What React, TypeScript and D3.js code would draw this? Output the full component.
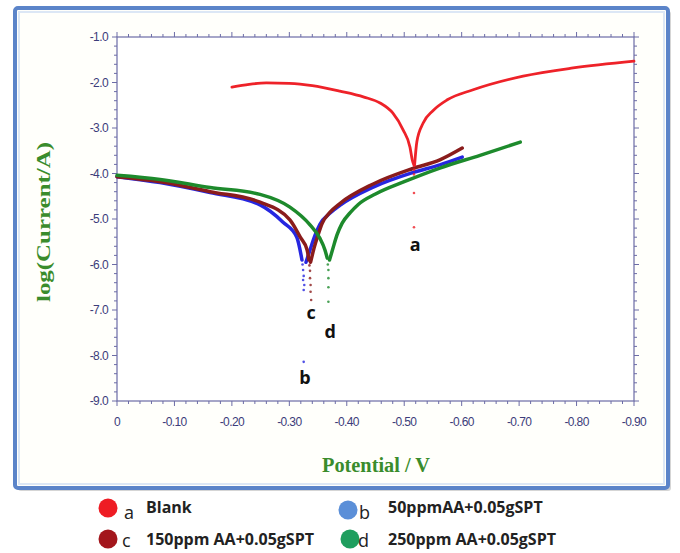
import React from "react";
import * as d3 from "d3";

type P = [number, number];

// Potential (V), log(Current/A)
const blankLeft: P[] = [
  [-0.2, -2.1], [-0.23, -2.04], [-0.26, -2.01], [-0.3, -2.02], [-0.34, -2.07], [-0.388, -2.19],
  [-0.43, -2.32], [-0.458, -2.45], [-0.48, -2.67], [-0.498, -3.04], [-0.51, -3.42], [-0.514, -3.7], [-0.517, -3.82],
];
const blankRight: P[] = [
  [-0.518, -3.82], [-0.522, -3.3], [-0.533, -2.89], [-0.55, -2.62], [-0.575, -2.38], [-0.62, -2.16],
  [-0.707, -1.86], [-0.794, -1.68], [-0.9, -1.53],
];
const blankDots: P[] = [[-0.517, -3.92], [-0.517, -4.02], [-0.517, -4.43], [-0.517, -5.18]];

const bLeft: P[] = [
  [0, -4.07], [-0.075, -4.2], [-0.162, -4.42], [-0.249, -4.69], [-0.289, -5.07],
  [-0.313, -5.4], [-0.322, -5.9],
];
const bRight: P[] = [
  [-0.329, -5.95], [-0.336, -5.68], [-0.345, -5.35], [-0.353, -5.12], [-0.371, -4.87],
  [-0.388, -4.7], [-0.446, -4.3], [-0.515, -3.98], [-0.562, -3.81], [-0.601, -3.64],
];
const bDots: P[] = [[-0.323, -6.0], [-0.324, -6.12], [-0.325, -6.25], [-0.324, -6.34], [-0.326, -6.45], [-0.325, -6.56], [-0.325, -8.14]];

const cLeft: P[] = [
  [0, -4.07], [-0.075, -4.18], [-0.162, -4.4], [-0.249, -4.63], [-0.301, -5.02],
  [-0.319, -5.4], [-0.331, -5.68], [-0.334, -5.9],
];
const cRight: P[] = [
  [-0.337, -5.95], [-0.343, -5.64], [-0.35, -5.35], [-0.357, -5.1], [-0.371, -4.85],
  [-0.388, -4.66], [-0.446, -4.23], [-0.515, -3.89], [-0.562, -3.7], [-0.601, -3.44],
];
const cDots: P[] = [[-0.335, -6.02], [-0.336, -6.14], [-0.336, -6.3], [-0.337, -6.45], [-0.337, -6.6], [-0.338, -6.78]];

const dLeft: P[] = [
  [0, -4.04], [-0.075, -4.13], [-0.162, -4.31], [-0.249, -4.46], [-0.301, -4.74],
  [-0.336, -5.13], [-0.353, -5.42], [-0.362, -5.68], [-0.366, -5.86],
];
const dRight: P[] = [
  [-0.37, -5.9], [-0.376, -5.64], [-0.383, -5.35], [-0.392, -5.09], [-0.406, -4.86],
  [-0.42, -4.68], [-0.45, -4.45], [-0.5, -4.18], [-0.562, -3.88], [-0.632, -3.6], [-0.702, -3.31],
];
const dDots: P[] = [[-0.367, -6.0], [-0.368, -6.12], [-0.368, -6.3], [-0.368, -6.5], [-0.368, -6.82]];

const curveLabels = ["a", "b", "c", "d"];
const curveLabelPos: P[] = [[-0.519, -5.57], [-0.327, -8.49], [-0.338, -7.07], [-0.371, -7.48]];

const xTicks = [0, -0.1, -0.2, -0.3, -0.4, -0.5, -0.6, -0.7, -0.8, -0.9];
const yTicks = [-1, -2, -3, -4, -5, -6, -7, -8, -9];

const legendLetters = ["a", "b", "c", "d"];
const legendLabels = ["Blank", "50ppmAA+0.05gSPT", "150ppm AA+0.05gSPT", "250ppm AA+0.05gSPT"];
const legendColors = ["#ee1c24", "#5b8fd8", "#a3161c", "#1f9e5e"];
const lineColors = ["#ee2229", "#2626e0", "#8a1c1c", "#1d8a2c"];

export default function App() {
  const x = d3.scaleLinear().domain([0, -0.9]).range([117, 634]);
  const y = d3.scaleLinear().domain([-1, -9]).range([37, 401]);
  const line = d3
    .line<P>()
    .x((d) => x(d[0]))
    .y((d) => y(d[1]))
    .curve(d3.curveMonotoneX);

  const xMinor = d3.range(0, 46).map((i) => -i * 0.02);
  const yMinor = d3.range(0, 41).map((i) => -1 - i * 0.2);
  const axisColor = "#6c6ca6";
  const tickColor = "#3c3c7a";

  const series = [
    { idx: 1, left: bLeft, right: bRight, dots: bDots, w: 3.5 },
    { idx: 2, left: cLeft, right: cRight, dots: cDots, w: 3.5 },
    { idx: 3, left: dLeft, right: dRight, dots: dDots, w: 3.5 },
    { idx: 0, left: blankLeft, right: blankRight, dots: blankDots, w: 2.8 },
  ];

  const legendPos = [
    { cx: 108, cy: 508, lx: 124, tx: 146, by: 519, ty: 513 },
    { cx: 348, cy: 510, lx: 359, tx: 388, by: 519, ty: 513 },
    { cx: 108, cy: 539, lx: 122, tx: 146, by: 547, ty: 545 },
    { cx: 350, cy: 539, lx: 358, tx: 388, by: 547, ty: 545 },
  ];

  return (
    <svg width={680} height={553} style={{ position: "absolute", left: 0, top: 0, background: "#fff" }}>
      <rect x={18} y={11} width={653} height={480} rx={3} fill="#b9b9b9" opacity={0.6} />
      <rect x={15} y={8} width={653} height={480} rx={3} fill="#fffffb" stroke="#5b84c9" strokeWidth={4} />
      <rect x={19} y={12} width={645} height={472} fill="none" stroke="#dce7f5" strokeWidth={2} />

      {/* axes frame */}
      <rect x={117} y={37} width={517} height={364} fill="#ffffff" stroke={axisColor} strokeWidth={1.2} />
      {xMinor.map((v, i) => {
        const major = i % 5 === 0;
        const len = major ? 5 : 3;
        return (
          <g key={"xm" + i} stroke={axisColor} strokeWidth={1}>
            <line x1={x(v)} x2={x(v)} y1={401} y2={401 + len} />
            <line x1={x(v)} x2={x(v)} y1={37} y2={37 - len} />
          </g>
        );
      })}
      {yMinor.map((v, i) => {
        const major = i % 5 === 0;
        const len = major ? 5 : 3;
        return (
          <g key={"ym" + i} stroke={axisColor} strokeWidth={1}>
            <line x1={117} x2={117 - len} y1={y(v)} y2={y(v)} />
            <line x1={634} x2={634 + len} y1={y(v)} y2={y(v)} />
          </g>
        );
      })}
      {yTicks.map((v) => (
        <text key={"yt" + v} x={108} y={y(v)} dy="0.35em" textAnchor="end" fontFamily="Liberation Sans, Arial, sans-serif" fontSize={12} fill={tickColor} letterSpacing={-0.6}>
          {v.toFixed(1)}
        </text>
      ))}
      {xTicks.map((v) => (
        <text key={"xt" + v} x={x(v)} y={426} textAnchor="middle" fontFamily="Liberation Sans, Arial, sans-serif" fontSize={12} fill={tickColor} letterSpacing={-0.6}>
          {v === 0 ? "0" : v.toFixed(2)}
        </text>
      ))}

      {/* curves */}
      {series.map((s) => (
        <g key={"s" + s.idx}>
          <path d={line(s.left) || ""} fill="none" stroke={lineColors[s.idx]} strokeWidth={s.w} strokeLinecap="round" />
          <path d={line(s.right) || ""} fill="none" stroke={lineColors[s.idx]} strokeWidth={s.w} strokeLinecap="round" />
          {s.dots.map((d, j) => (
            <circle key={j} cx={x(d[0])} cy={y(d[1])} r={1.3} fill={lineColors[s.idx]} opacity={0.8} />
          ))}
        </g>
      ))}

      {curveLabels.map((t, i) => (
        <text key={"cl" + t} x={x(curveLabelPos[i][0])} y={y(curveLabelPos[i][1])} dy="0.35em" textAnchor="middle" fontFamily="Open Sans, sans-serif" fontWeight="bold" fontSize={18} fill="#111">
          {t}
        </text>
      ))}

      {/* axis titles */}
      <text transform="translate(50,222) rotate(-90)" textAnchor="middle" fontFamily="Liberation Serif, Times New Roman, serif" fontWeight="bold" fontSize={19} fill="#3a8c2c" textLength={160} lengthAdjust="spacingAndGlyphs">
        log(Current/A)
      </text>
      <text x={376} y={472} textAnchor="middle" fontFamily="Liberation Serif, Times New Roman, serif" fontWeight="bold" fontSize={20} fill="#3a8c2c" textLength={108} lengthAdjust="spacingAndGlyphs">
        Potential / V
      </text>

      {/* legend */}
      {legendLabels.map((lab, i) => {
        const p = legendPos[i];
        return (
          <g key={"lg" + i}>
            <circle cx={p.cx} cy={p.cy} r={9.5} fill={legendColors[i]} />
            <text x={p.lx} y={p.by} fontFamily="Open Sans, sans-serif" fontSize={18} fill="#222">
              {legendLetters[i]}
            </text>
            <text x={p.tx} y={p.ty} fontFamily="Open Sans, sans-serif" fontWeight="bold" fontSize={16} fill="#222">
              {lab}
            </text>
          </g>
        );
      })}
    </svg>
  );
}
